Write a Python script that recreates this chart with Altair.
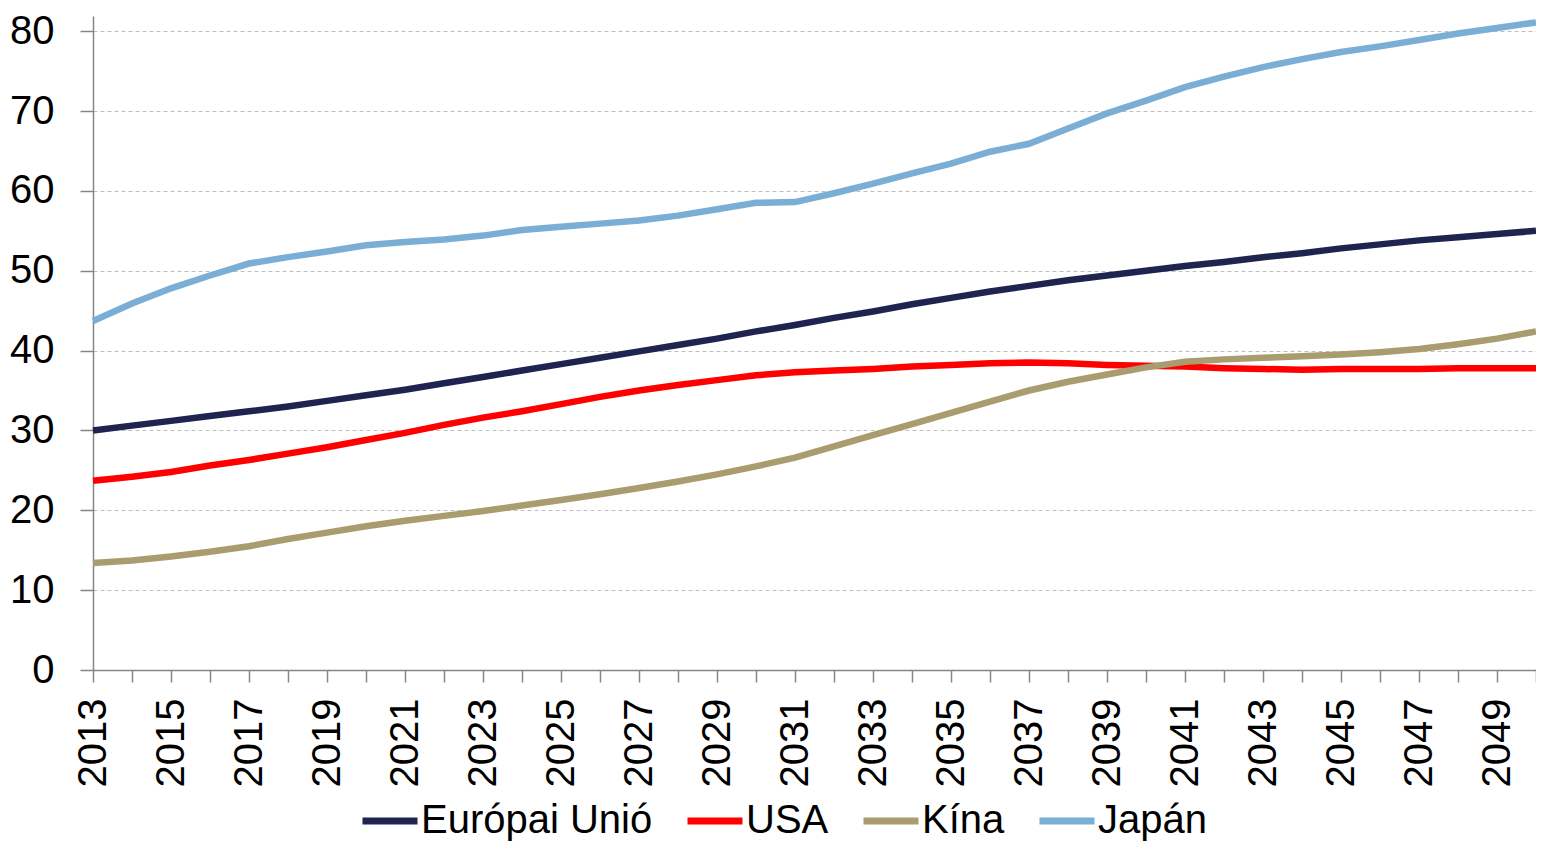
import altair as alt
import pandas as pd

years = list(range(2013, 2051))

series_names = ["Európai Unió", "USA", "Kína", "Japán"]
series_colors = ["#1F2350", "#FF0000", "#A99C6E", "#7AAED4"]

eu = [30.0, 30.6, 31.2, 31.8, 32.4, 33.0, 33.7, 34.4, 35.1, 35.9,
      36.7, 37.5, 38.3, 39.1, 39.9, 40.7, 41.5, 42.4, 43.2, 44.1,
      44.9, 45.8, 46.6, 47.4, 48.1, 48.8, 49.4, 50.0, 50.6, 51.1,
      51.7, 52.2, 52.8, 53.3, 53.8, 54.2, 54.6, 55.0]
usa = [23.7, 24.2, 24.8, 25.6, 26.3, 27.1, 27.9, 28.8, 29.7, 30.7,
       31.6, 32.4, 33.3, 34.2, 35.0, 35.7, 36.3, 36.9, 37.3, 37.5,
       37.7, 38.0, 38.2, 38.4, 38.5, 38.4, 38.2, 38.1, 38.0, 37.8,
       37.7, 37.6, 37.7, 37.7, 37.7, 37.8, 37.8, 37.8]
kina = [13.4, 13.7, 14.2, 14.8, 15.5, 16.4, 17.2, 18.0, 18.7, 19.3,
        19.9, 20.6, 21.3, 22.0, 22.8, 23.6, 24.5, 25.5, 26.6, 28.0,
        29.4, 30.8, 32.2, 33.6, 35.0, 36.1, 37.0, 37.9, 38.6, 38.9,
        39.1, 39.3, 39.5, 39.8, 40.2, 40.8, 41.5, 42.4]
japan = [43.7, 45.9, 47.8, 49.4, 50.9, 51.7, 52.4, 53.2, 53.6, 53.9,
         54.4, 55.1, 55.5, 55.9, 56.3, 56.9, 57.7, 58.5, 58.6, 59.7,
         60.9, 62.2, 63.4, 64.9, 65.9, 67.8, 69.7, 71.3, 73.0, 74.3,
         75.5, 76.5, 77.4, 78.1, 78.9, 79.7, 80.4, 81.1]

y_ticks = [0, 10, 20, 30, 40, 50, 60, 70, 80]

rows = []
for name, vals in zip(series_names, [eu, usa, kina, japan]):
    for yr, v in zip(years, vals):
        rows.append({"year": yr, "value": v, "series": name})
df = pd.DataFrame(rows)

FONT = "Liberation Sans"

chart = alt.Chart(df).mark_line(strokeWidth=6.5).encode(
    x=alt.X("year:Q",
            scale=alt.Scale(domain=[2013, 2050], nice=False, zero=False),
            axis=alt.Axis(values=years, labelExpr="datum.value % 2 == 1 ? datum.value : ''",
                          labelAngle=270, labelAlign="right", labelBaseline="middle",
                          labelFont=FONT, labelFontSize=40, labelColor="#000000",
                          labelPadding=16, tickSize=12, tickColor="#868686",
                          domainColor="#868686", domainWidth=1.5, tickWidth=1.5,
                          grid=False, title=None, labelOverlap=False)),
    y=alt.Y("value:Q",
            scale=alt.Scale(domain=[0, 81.9], nice=False),
            axis=alt.Axis(values=y_ticks, labelFont=FONT, labelFontSize=40,
                          labelColor="#000000", labelPadding=26, tickSize=13,
                          tickColor="#868686", domainColor="#868686", domainWidth=1.5,
                          tickWidth=1.5, grid=True, gridColor="#BFBFBF",
                          gridDash=[4, 3], gridWidth=1, title=None)),
    color=alt.Color("series:N",
                    scale=alt.Scale(domain=series_names, range=series_colors),
                    legend=alt.Legend(orient="none", legendX=266, legendY=774,
                                      direction="horizontal", title=None,
                                      symbolType="stroke", symbolSize=3025,
                                      symbolStrokeWidth=7, labelFont=FONT,
                                      labelFontSize=40, labelColor="#000000",
                                      labelOffset=0, columnPadding=20,
                                      labelLimit=0, symbolLimit=0)),
    order=alt.Order("year:Q"),
).properties(
    width=1443, height=654,
    autosize=alt.AutoSizeParams(type="none"),
    padding={"left": 85, "top": 8, "right": 0, "bottom": 175},
).configure_view(stroke=None).configure_legend(symbolStrokeWidth=7)

chart.save("out.html", embed_options={"renderer": "svg", "actions": False})
